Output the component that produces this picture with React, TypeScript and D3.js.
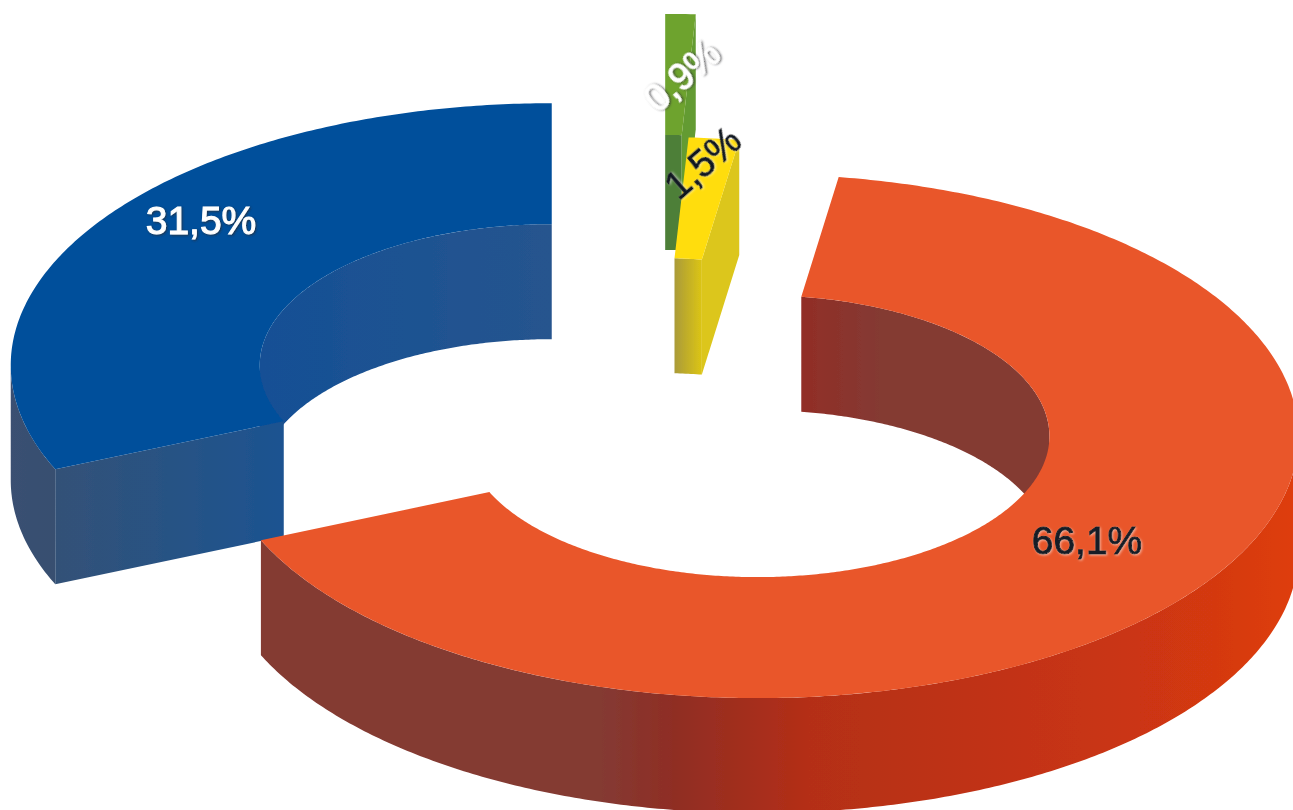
import React from "react";
import * as d3 from "d3";

const categories = ["Green", "Yellow", "Orange", "Blue"];
const values = [0.9, 1.5, 66.1, 31.5];
const labels = ["0,9%", "1,5%", "66,1%", "31,5%"];
const explode = [0.47, 0, 0.232, 0.235];

const W = 1293, H = 810;
const CX = 658, CY = 399;
const RX_OUT = 541, RY_OUT = 262, RX_IN = 292, RY_IN = 141, DEPTH = 115;

const TOPS = ["#6ea32f", "#ffdd10", "#e9562a", "#034f9b"];
const labelPos: [number, number, number, number, string, string][] = [
  [682, 76, -41, 38, "#ffffff", "url(#shDark)"],
  [703, 163, -41, 38, "#0d1620", "url(#shLight)"],
  [1087, 554, 0, 39, "#131c26", "url(#shLight)"],
  [201, 234, 0, 39, "#ffffff", "url(#shDark)"],
];

const pie = d3.pie<number>().sort(null).startAngle(0).endAngle(2 * Math.PI);
const arcs = pie(values);
const line = d3.line<[number, number]>();

type Pt = [number, number];
function App() {
  const shapes = arcs.map((a, i) => {
    const mid = (a.startAngle + a.endAngle) / 2;
    const cx = CX + explode[i] * Math.sin(mid) * RX_OUT;
    const cy = CY - explode[i] * Math.cos(mid) * RY_OUT;
    const P = (t: number, outer: boolean, dz = 0): Pt => [
      cx + (outer ? RX_OUT : RX_IN) * Math.sin(t),
      cy - (outer ? RY_OUT : RY_IN) * Math.cos(t) + dz,
    ];
    const samples = (t0: number, t1: number, outer: boolean, dz = 0): Pt[] => {
      const n = Math.max(2, Math.ceil(Math.abs(t1 - t0) / 0.01));
      return d3.range(n + 1).map((k) => P(t0 + ((t1 - t0) * k) / n, outer, dz));
    };
    const path = (pts: Pt[]) => line(pts) + "Z";
    const s = a.startAngle, e = a.endAngle;
    const top = path([...samples(s, e, true), ...samples(e, s, false)]);
    const wall = (t0: number, t1: number, outer: boolean) =>
      path([...samples(t0, t1, outer), ...samples(t1, t0, outer, DEPTH)]);
    const face = (t: number) =>
      path([P(t, true), P(t, false), P(t, false, DEPTH), P(t, true, DEPTH)]);
    return { top, wall, face, s, e };
  });
  const [g, y, o, b] = shapes;
  const HALF = Math.PI / 2;

  return (
    <svg width={W} height={H} style={{ position: "absolute", left: 0, top: 0, display: "block", background: "#fff" }}>
      <defs>
        <linearGradient id="oOuter" gradientUnits="userSpaceOnUse" x1={260} y1={600} x2={1293} y2={600}>
          <stop offset="0" stopColor="#843a33" />
          <stop offset="0.33" stopColor="#843a33" />
          <stop offset="0.40" stopColor="#8f2d24" />
          <stop offset="0.53" stopColor="#b42f17" />
          <stop offset="0.85" stopColor="#cb3512" />
          <stop offset="1" stopColor="#de3d10" />
        </linearGradient>
        <linearGradient id="oInner" gradientUnits="userSpaceOnUse" x1={800} y1={350} x2={880} y2={350}>
          <stop offset="0" stopColor="#922d26" />
          <stop offset="1" stopColor="#843a33" />
        </linearGradient>
        <linearGradient id="bFace" gradientUnits="userSpaceOnUse" x1={55} y1={500} x2={285} y2={500}>
          <stop offset="0" stopColor="#335177" />
          <stop offset="1" stopColor="#1c5391" />
        </linearGradient>
        <linearGradient id="bOuter" gradientUnits="userSpaceOnUse" x1={10} y1={500} x2={60} y2={500}>
          <stop offset="0" stopColor="#3a5072" />
          <stop offset="1" stopColor="#374f70" />
        </linearGradient>
        <linearGradient id="bInner" gradientUnits="userSpaceOnUse" x1={262} y1={300} x2={552} y2={300}>
          <stop offset="0" stopColor="#155095" />
          <stop offset="1" stopColor="#26548e" />
        </linearGradient>
        <linearGradient id="yInner" gradientUnits="userSpaceOnUse" x1={674} y1={300} x2={702} y2={300}>
          <stop offset="0" stopColor="#a99a3a" />
          <stop offset="1" stopColor="#dcc515" />
        </linearGradient>
        <filter id="soft" x="-5%" y="-5%" width="110%" height="110%">
          <feGaussianBlur stdDeviation="0.7" />
        </filter>
        <filter id="shDark" x="-20%" y="-30%" width="140%" height="160%">
          <feDropShadow dx="1" dy="1" stdDeviation="1.2" floodColor="#2a2a33" floodOpacity="0.8" />
        </filter>
        <filter id="shLight" x="-20%" y="-30%" width="140%" height="160%">
          <feDropShadow dx="1" dy="1" stdDeviation="1.2" floodColor="#ffffff" floodOpacity="0.5" />
        </filter>
      </defs>

      <g filter="url(#soft)" data-categories={categories.join(",")}>
        {/* blue slice */}
        <path d={b.wall(Math.max(b.s, 3 * HALF), b.e, false)} fill="url(#bInner)" />
        <path d={b.wall(b.s, 3 * HALF, true)} fill="url(#bOuter)" />
        <path d={b.face(b.s)} fill="url(#bFace)" />
        <path d={b.top} fill={TOPS[3]} />

        {/* orange slice */}
        <path d={o.wall(o.s, HALF, false)} fill="url(#oInner)" />
        <path d={o.wall(HALF, o.e, true)} fill="url(#oOuter)" />
        <path d={o.top} fill={TOPS[2]} />

        {/* green slice */}
        <path d={g.wall(g.s, g.e, false)} fill="#4d7f37" />
        <path d={g.face(g.e)} fill="#649b31" />
        <path d={g.top} fill={TOPS[0]} />

        {/* yellow slice */}
        <path d={y.wall(y.s, y.e, false)} fill="url(#yInner)" />
        <path d={y.face(y.e)} fill="#dcc61a" />
        <path d={y.top} fill={TOPS[1]} />
      </g>

      {labels.map((t, i) => {
        const [x, yy, rot, size, fill, filter] = labelPos[i];
        return (
          <text
            key={t}
            transform={`translate(${x},${yy}) rotate(${rot})`}
            textAnchor="middle"
            fontFamily="'Liberation Sans', Arial, sans-serif"
            fontSize={size}
            fill={fill}
            stroke={fill}
            strokeWidth={1}
            filter={filter}
            dy={rot ? "0.35em" : 0}
          >
            {t}
          </text>
        );
      })}
    </svg>
  );
}

export default App;
